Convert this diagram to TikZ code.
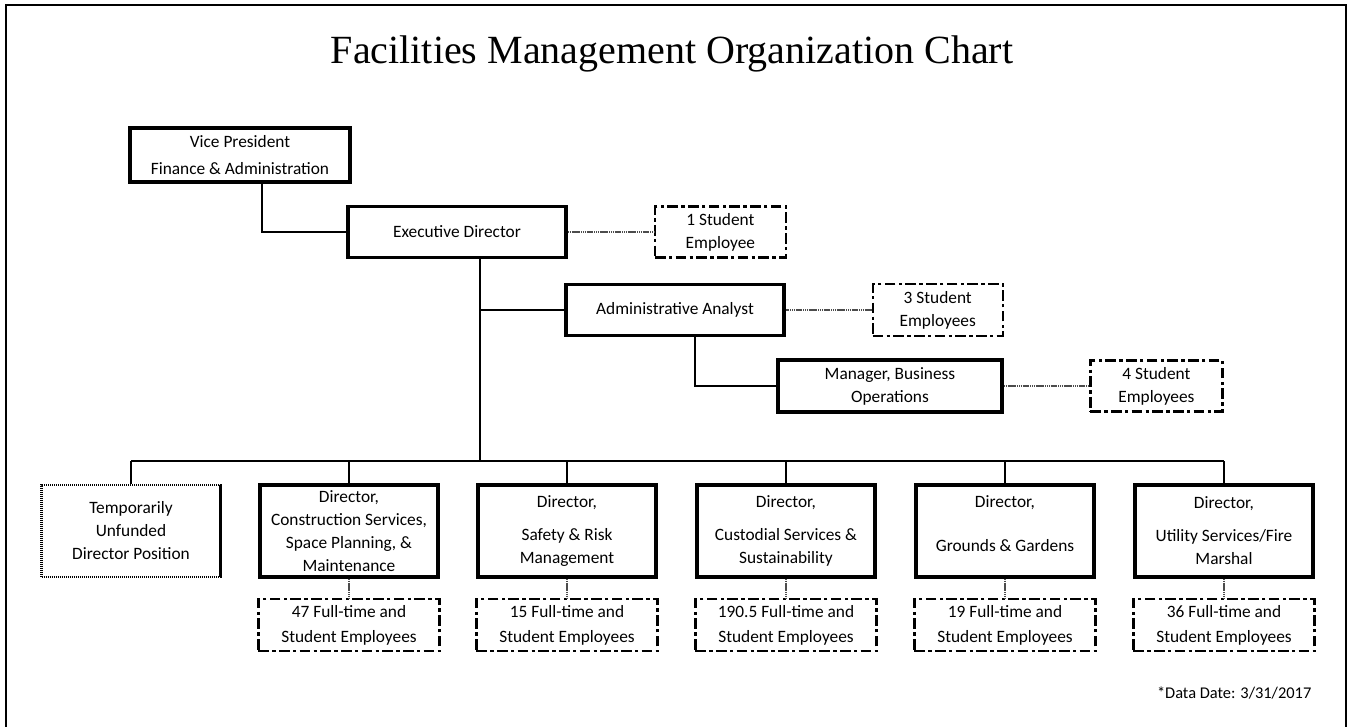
\documentclass[tikz,border=0pt]{standalone}
\usepackage{fontspec}
\setmainfont{Carlito}
\newfontfamily\titlefont{Liberation Serif}
\usetikzlibrary{positioning}

\begin{document}
\begin{tikzpicture}[
        x=0.75pt, y=-0.75pt, % one unit = one pixel of the page, y downwards
        font=\fontsize{13}{17.25}\selectfont,
        post/.style={draw, line width=2.8pt, align=center, inner sep=2pt},
        staff/.style={draw, line width=1.8pt, dash pattern=on 8pt off 2.5pt on 2.5pt off 2.5pt, align=center, inner sep=2pt},
        vacant/.style={draw, line width=1.8pt, dash pattern=on 1pt off 0.5pt, align=center, inner sep=2pt},
        link/.style={line width=1.4pt},
        aux/.style={line width=1.7pt, dash pattern=on 1pt off 0.4pt, black!70}
    ]
    \useasboundingbox (0,0) rectangle (1347,726);

    % --- Frame and title ---
    \draw[line width=1.6pt] (6,740) -- (6,5) -- (1346,5) -- (1346,740);
    \node[font=\titlefont\fontsize{30}{36}\selectfont] (title) at (672,54) {Facilities Management Organization Chart};

    % --- Upper nodes ---
    \node[post, minimum width=165pt, minimum height=40.5pt] (vp) at (240,155) {Vice President\\[2.5pt]Finance \& Administration};
    \node[post, minimum width=163.5pt, minimum height=38.25pt] (exec) at (457,232) {Executive Director};
    \node[staff, minimum width=98pt, minimum height=38.25pt, right=64.5pt of exec] (stu1) {1 Student\\Employee};
    \node[post, minimum width=164pt, minimum height=38.25pt] (analyst) at (675,310) {Administrative Analyst};
    \node[staff, minimum width=97.5pt, minimum height=39pt, right=64pt of analyst] (stu3) {3 Student\\Employees};
    \node[post, minimum width=168pt, minimum height=39pt] (manager) at (890,386) {Manager, Business\\Operations};
    \node[staff, minimum width=99pt, minimum height=38.25pt, right=64pt of manager] (stu4) {4 Student\\Employees};

    % --- Directors ---
    \node[vacant, minimum width=134pt, minimum height=69pt] (dvac) at (131,531) {Temporarily\\Unfunded\\Director Position};
    \node[post, minimum width=134pt, minimum height=69pt] (dconst) at (349,531) {Director,\\Construction Services,\\Space Planning, \&\\Maintenance};
    \node[post, minimum width=134pt, minimum height=69pt] (dsafety) at (567,531) {Director,\\[7.5pt]Safety \& Risk\\Management};
    \node[post, minimum width=134pt, minimum height=69pt] (dcust) at (786,531) {Director,\\[7.5pt]Custodial Services \&\\Sustainability};
    \node[post, minimum width=134pt, minimum height=69pt] (dgrounds) at (1005,531) {Director,\\[16pt]Grounds \& Gardens\\[-6pt]~};
    \node[post, minimum width=134pt, minimum height=69pt] (dutil) at (1224,531) {Director,\\[7.5pt]Utility Services/Fire\\Marshal};

    % --- Employee counts ---
    \node[staff, minimum width=136pt, minimum height=39pt, below=14.3pt of dconst] (econst) {47 Full-time and\\[1.5pt]Student Employees};
    \node[staff, minimum width=136pt, minimum height=39pt, below=14.3pt of dsafety] (esafety) {15 Full-time and\\[1.5pt]Student Employees};
    \node[staff, minimum width=136pt, minimum height=39pt, below=14.3pt of dcust] (ecust) {190.5 Full-time and\\[1.5pt]Student Employees};
    \node[staff, minimum width=136pt, minimum height=39pt, below=14.3pt of dgrounds] (egrounds) {19 Full-time and\\[1.5pt]Student Employees};
    \node[staff, minimum width=136pt, minimum height=39pt, below=14.3pt of dutil] (eutil) {36 Full-time and\\[1.5pt]Student Employees};

    \node[anchor=base east, font=\fontsize{12.3}{14}\selectfont] (date) at (1316,698) {*Data Date: 3/31/2017};

    % --- Solid reporting lines ---
    \draw[link] ([xshift=16.5pt]vp.south) |- (exec.west);
    \coordinate (trunk) at ([xshift=17.25pt]exec.south);
    \coordinate (bus) at (131,461);
    \draw[link] (trunk) -- (trunk |- bus);
    \draw[link] (trunk |- analyst.west) -- (analyst.west);
    \draw[link] ([xshift=15pt]analyst.south) |- (manager.west);
    \draw[link] (dvac.north |- bus) -- (dutil.north |- bus);
    \draw[link] (dvac.north |- bus) -- (dvac.north);
    \draw[link] (dconst.north |- bus) -- (dconst.north);
    \draw[link] (dsafety.north |- bus) -- (dsafety.north);
    \draw[link] (dcust.north |- bus) -- (dcust.north);
    \draw[link] (dgrounds.north |- bus) -- (dgrounds.north);
    \draw[link] (dutil.north |- bus) -- (dutil.north);

    % --- Dotted lines to student/staff counts ---
    \draw[aux] (exec.east) -- (stu1.west);
    \draw[aux] (analyst.east) -- (stu3.west);
    \draw[aux] (manager.east) -- (stu4.west);
    \draw[aux] (dconst.south) -- (econst.north);
    \draw[aux] (dsafety.south) -- (esafety.north);
    \draw[aux] (dcust.south) -- (ecust.north);
    \draw[aux] (dgrounds.south) -- (egrounds.north);
    \draw[aux] (dutil.south) -- (eutil.north);

\end{tikzpicture}
\end{document}
